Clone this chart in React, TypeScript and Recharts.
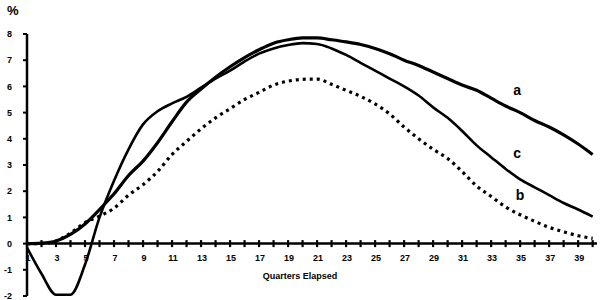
import React from 'react';
import { LineChart, Line, XAxis, YAxis, ReferenceLine, ReferenceDot } from 'recharts';

const quarters = [1,2,3,4,5,6,7,8,9,10,11,12,13,14,15,16,17,18,19,20,21,22,23,24,25,26,27,28,29,30,31,32,33,34,35,36,37,38,39,40];

const seriesA = [0,0.02,0.1,0.35,0.75,1.3,1.9,2.6,3.15,3.85,4.65,5.4,5.9,6.35,6.75,7.1,7.4,7.65,7.78,7.85,7.85,7.78,7.7,7.6,7.45,7.25,7.0,6.8,6.55,6.3,6.05,5.85,5.55,5.25,5.0,4.7,4.45,4.15,3.8,3.4];

const seriesB = [0,0,0.1,0.4,0.8,1.05,1.35,1.85,2.25,2.75,3.4,3.9,4.38,4.8,5.15,5.5,5.77,6.05,6.2,6.27,6.28,6.08,5.85,5.62,5.33,4.95,4.45,4.0,3.6,3.25,2.75,2.2,1.8,1.4,1.1,0.85,0.62,0.45,0.3,0.2];

const seriesC = [-0.15,-1.15,-1.95,-1.95,-0.8,1.0,2.4,3.6,4.55,5.05,5.35,5.6,5.95,6.3,6.6,6.95,7.25,7.45,7.58,7.65,7.62,7.45,7.2,6.9,6.6,6.3,6.0,5.65,5.2,4.8,4.3,3.75,3.3,2.85,2.45,2.15,1.85,1.55,1.3,1.03];

const yTicks = [-2,-1,0,1,2,3,4,5,6,7,8];
const xLabelQuarters = [1,3,5,7,9,11,13,15,17,19,21,23,25,27,29,31,33,35,37,39];

const seriesNames = ['a', 'c', 'b'];
const seriesNameQuarter = [34.8, 34.8, 35.0];
const seriesNameValue = [5.86, 3.45, 1.85];

const data = quarters.map((q, i) => ({ q, a: seriesA[i], b: seriesB[i], c: seriesC[i] }));

const FONT = '"Liberation Sans", Arial, sans-serif';

const XTickShape = (props: any) => {
  const { cx, cy, quarter } = props;
  const labelled = xLabelQuarters.includes(quarter);
  return (
    <g>
      <line x1={cx} x2={cx} y1={cy - 3.5} y2={cy + 3.5} stroke="#000" strokeWidth={2.2} />
      {labelled && (
        <text x={cx + 1} y={cy + 17} textAnchor="middle" fontFamily={FONT} fontWeight="bold" fontSize={9} fill="#000">
          {quarter}
        </text>
      )}
    </g>
  );
};

const NameShape = (props: any) => {
  const { cx, cy, name } = props;
  return (
    <text x={cx} y={cy} textAnchor="middle" dominantBaseline="central" fontFamily={FONT} fontWeight="bold" fontSize={14} fill="#000">
      {name}
    </text>
  );
};

export default function App() {
  return (
    <div style={{ position: 'absolute', left: 0, top: 0, width: 600, height: 300, background: '#fff' }}>
      <LineChart width={600} height={300} data={data} margin={{ top: 34, right: 3, bottom: 4, left: 0 }}>
        <XAxis dataKey="q" type="number" domain={[1, 40.3]} hide />
        <YAxis
          type="number"
          domain={[-2, 8]}
          ticks={yTicks}
          interval={0}
          width={27}
          axisLine={{ stroke: '#000', strokeWidth: 2.5 }}
          tickLine={{ stroke: '#000', strokeWidth: 2 }}
          tickSize={4}
          tickMargin={11}
          tick={{ fontFamily: FONT, fontWeight: 'bold', fontSize: 9, fill: '#000' }}
        />
        <ReferenceLine y={0} stroke="#000" strokeWidth={2.5} />
        {quarters.map((q) => (
          <ReferenceDot key={'t' + q} x={q} y={0} r={0} shape={(p: any) => <XTickShape {...p} quarter={q} />} />
        ))}
        <Line type="monotone" dataKey="b" stroke="#000" strokeWidth={3.2} strokeDasharray="3 4" dot={false} isAnimationActive={false} />
        <Line type="monotone" dataKey="c" stroke="#000" strokeWidth={2.6} dot={false} isAnimationActive={false} />
        <Line type="monotone" dataKey="a" stroke="#000" strokeWidth={3.2} dot={false} isAnimationActive={false} />
        {seriesNames.map((n, i) => (
          <ReferenceDot key={'n' + n} x={seriesNameQuarter[i]} y={seriesNameValue[i]} r={0} shape={(p: any) => <NameShape {...p} name={n} />} />
        ))}
      </LineChart>
      <div style={{ position: 'absolute', left: 7, top: 4, fontFamily: FONT, fontWeight: 'bold', fontSize: 13, lineHeight: '14px' }}>%</div>
      <div style={{ position: 'absolute', left: 250, top: 271, width: 100, textAlign: 'center', fontFamily: FONT, fontWeight: 'bold', fontSize: 9, lineHeight: '10px' }}>Quarters Elapsed</div>
    </div>
  );
}
